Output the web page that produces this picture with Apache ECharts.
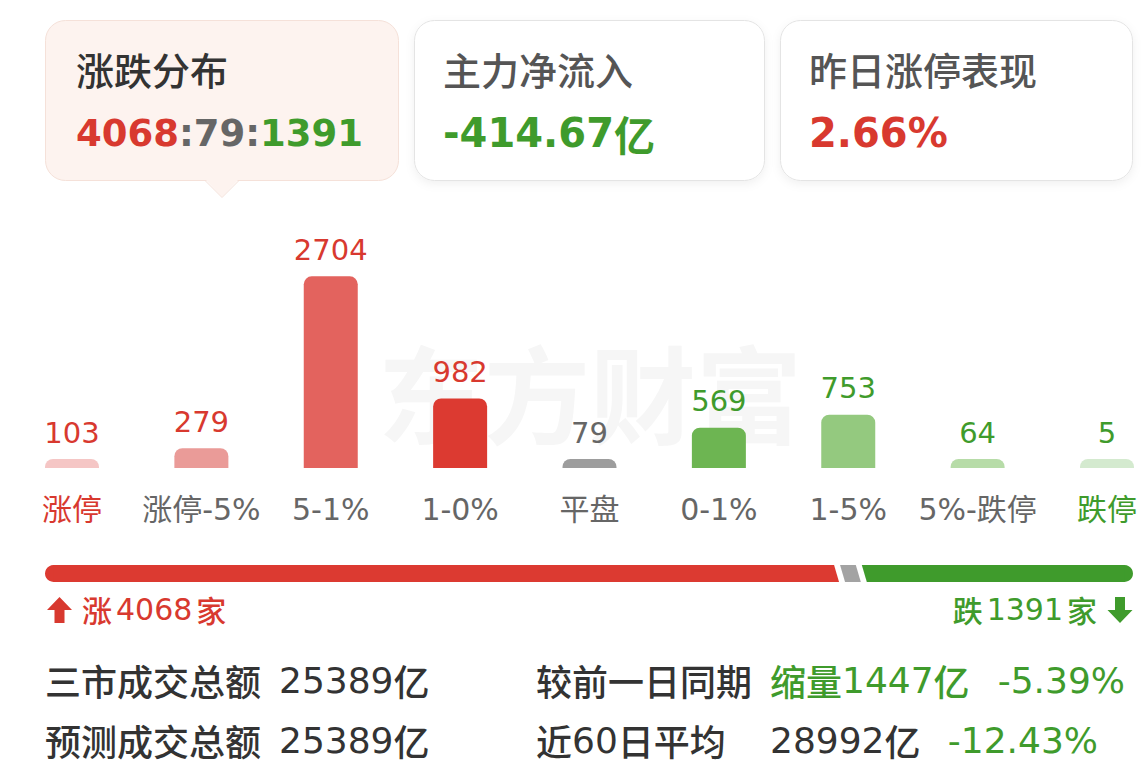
<!DOCTYPE html>
<html><head><meta charset="utf-8">
<script src="https://cdn.jsdelivr.net/npm/echarts@6/dist/echarts.min.js"></script>
<style>html,body{margin:0;padding:0;background:#fff;}#c{width:1147px;height:784px;}</style>
</head><body><div id="c"></div>
<script>
// ---- data ----
const categories = ['涨停', '涨停-5%', '5-1%', '1-0%', '平盘', '0-1%', '1-5%', '5%-跌停', '跌停'];
const counts = [103, 279, 2704, 982, 79, 569, 753, 64, 5];
const breadthCounts = [4068, 79, 1391];          // 涨 : 平 : 跌
const cardTitles = ['涨跌分布', '主力净流入', '昨日涨停表现'];
const netInflow = -414.67;                        // 亿
const limitUpPerf = 2.66;                         // %
const turnoverLabels = ['三市成交总额', '预测成交总额'];
const turnoverValues = [25389, 25389];            // 亿
const compareLabels = ['较前一日同期', '近60日平均'];
const compareValues = [1447, 28992];              // 亿
const comparePct = [-5.39, -12.43];               // %

// ---- styles ----
const RED = '#d8392f', GREEN = '#3f9b2c', GRAY = '#666666', DARK = '#333333';
const barPalette = ['#f5c6c5', '#ea9b98', '#e3635e', '#dc3a31', '#9d9d9d', '#6db552', '#94c97f', '#b7dca8', '#d4eacf'];
const valueColors = [RED, RED, RED, RED, GRAY, GREEN, GREEN, GREEN, GREEN];
const catColors = [RED, GRAY, GRAY, GRAY, GRAY, GRAY, GRAY, GRAY, GREEN];
const breadthPalette = ['#dc3a31', '#a3a3a3', '#3f9b2c'];
const FF = '"DejaVu Sans","Noto Sans CJK SC",sans-serif';
const CJK = '"Noto Sans CJK SC",sans-serif';

// progress-bar segments: very small groups get a minimum visible share
const total = breadthCounts.reduce((a, b) => a + b, 0);
const minShare = total * 0.02;
const bigSum = breadthCounts.filter(v => v >= minShare).reduce((a, b) => a + b, 0);
const smallCount = breadthCounts.filter(v => v < minShare).length;
const shown = breadthCounts.map(v => v < minShare ? minShare : v * (total - smallCount * minShare) / bigSum);
let acc = 0;
const segs = shown.map((v, i) => { const s = [acc, acc + v, i]; acc += v; return s; });

const chart = echarts.init(document.getElementById('c'), null, { renderer: 'svg' });

function txt(x, y, rich, text, align) {
  return { type: 'text', x: x, y: y, style: { text: text, rich: rich, align: align || 'left', verticalAlign: 'middle' } };
}

const graphics = [
  // watermark
  { type: 'text', x: 590, y: 390, z: -10, style: { text: '东方财富', font: 'bold 106px ' + CJK, fill: '#f6f6f6', align: 'center', verticalAlign: 'middle' } },
  // card 1 (active)
  { type: 'rect', shape: { x: 45.5, y: 20.5, width: 353, height: 160, r: 20 }, style: { fill: '#fdf3ef', stroke: '#f5e1d9', lineWidth: 1 } },
  { type: 'polygon', shape: { points: [[205, 179], [222, 197], [239, 179]] }, style: { fill: '#fdf3ef' } },
  { type: 'polyline', shape: { points: [[205, 180.5], [222, 197.5], [239, 180.5]] }, style: { stroke: '#f5e1d9', lineWidth: 1, fill: null } },
  // card 2, 3
  { type: 'rect', shape: { x: 414.5, y: 20.5, width: 350, height: 160, r: 20 }, style: { fill: '#fff', stroke: '#e4e4e4', lineWidth: 1, shadowBlur: 10, shadowColor: 'rgba(0,0,0,0.06)', shadowOffsetY: 3 } },
  { type: 'rect', shape: { x: 780.5, y: 20.5, width: 352, height: 160, r: 20 }, style: { fill: '#fff', stroke: '#e4e4e4', lineWidth: 1, shadowBlur: 10, shadowColor: 'rgba(0,0,0,0.06)', shadowOffsetY: 3 } },
  // card titles
  txt(76, 68, { t: { fontFamily: CJK, fontSize: 38, fontWeight: 500, fill: DARK } }, '{t|' + cardTitles[0] + '}'),
  txt(443, 68, { t: { fontFamily: CJK, fontSize: 38, fontWeight: 500, fill: '#555' } }, '{t|' + cardTitles[1] + '}'),
  txt(809, 68, { t: { fontFamily: CJK, fontSize: 38, fontWeight: 500, fill: '#555' } }, '{t|' + cardTitles[2] + '}'),
  // card values
  txt(76, 133, {
    r: { fontFamily: FF, fontSize: 37, fontWeight: 'bold', fill: RED },
    g: { fontFamily: FF, fontSize: 37, fontWeight: 'bold', fill: GRAY },
    d: { fontFamily: FF, fontSize: 37, fontWeight: 'bold', fill: GREEN }
  }, '{r|' + breadthCounts[0] + '}{g|:' + breadthCounts[1] + ':}{d|' + breadthCounts[2] + '}'),
  txt(443, 133, {
    v: { fontFamily: FF, fontSize: 40, fontWeight: 'bold', fill: GREEN },
    u: { fontFamily: CJK, fontSize: 41, fontWeight: 'bold', fill: GREEN }
  }, '{v|' + netInflow.toFixed(2) + '}{u|亿}'),
  txt(809, 133, { v: { fontFamily: FF, fontSize: 40, fontWeight: 'bold', fill: RED } }, '{v|' + limitUpPerf.toFixed(2) + '%}'),
  // arrows
  { type: 'polygon', shape: { points: [[59.5, 597], [72, 610], [64.5, 610], [64.5, 623], [54.5, 623], [54.5, 610], [47, 610]] }, style: { fill: RED } },
  { type: 'polygon', shape: { points: [[1120, 623], [1132.5, 610], [1125, 610], [1125, 597], [1115, 597], [1115, 610], [1107.5, 610]] }, style: { fill: GREEN } },
  txt(82, 609, { c: { fontFamily: CJK, fontSize: 30, fontWeight: 500, fill: RED, padding: [0, 4, 0, 0] }, n: { fontFamily: FF, fontSize: 30, fill: RED, padding: [0, 4, 0, 0] } },
    '{c|涨}{n|' + breadthCounts[0] + '}{c|家}'),
  txt(1097, 609, { c: { fontFamily: CJK, fontSize: 30, fontWeight: 500, fill: GREEN, padding: [0, 4, 0, 0] }, n: { fontFamily: FF, fontSize: 30, fill: GREEN, padding: [0, 4, 0, 0] }, e: { fontFamily: CJK, fontSize: 30, fontWeight: 500, fill: GREEN } },
    '{c|跌}{n|' + breadthCounts[2] + '}{e|家}', 'right'),
  // bottom rows
  txt(45, 680, { l: { fontFamily: CJK, fontSize: 36, fontWeight: 500, fill: DARK } }, '{l|' + turnoverLabels[0] + '}'),
  txt(45, 740, { l: { fontFamily: CJK, fontSize: 36, fontWeight: 500, fill: DARK } }, '{l|' + turnoverLabels[1] + '}'),
  txt(279, 680, { n: { fontFamily: FF, fontSize: 36, fill: DARK }, u: { fontFamily: CJK, fontSize: 36, fontWeight: 500, fill: DARK } }, '{n|' + turnoverValues[0] + '}{u|亿}'),
  txt(279, 740, { n: { fontFamily: FF, fontSize: 36, fill: DARK }, u: { fontFamily: CJK, fontSize: 36, fontWeight: 500, fill: DARK } }, '{n|' + turnoverValues[1] + '}{u|亿}'),
  txt(536, 680, { l: { fontFamily: CJK, fontSize: 36, fontWeight: 500, fill: DARK } }, '{l|' + compareLabels[0] + '}'),
  txt(536, 740, { l: { fontFamily: CJK, fontSize: 36, fontWeight: 500, fill: DARK }, n: { fontFamily: FF, fontSize: 36, fill: DARK } }, '{l|近}{n|60}{l|日平均}'),
  txt(770, 680, { l: { fontFamily: CJK, fontSize: 36, fontWeight: 500, fill: GREEN }, n: { fontFamily: FF, fontSize: 36, fill: GREEN } }, '{l|缩量}{n|' + compareValues[0] + '}{l|亿}'),
  txt(770, 740, { l: { fontFamily: CJK, fontSize: 36, fontWeight: 500, fill: DARK }, n: { fontFamily: FF, fontSize: 36, fill: DARK } }, '{n|' + compareValues[1] + '}{l|亿}'),
  txt(1125, 680, { n: { fontFamily: FF, fontSize: 36, fill: GREEN } }, '{n|' + comparePct[0].toFixed(2) + '%}', 'right'),
  txt(1098, 740, { n: { fontFamily: FF, fontSize: 36, fill: GREEN } }, '{n|' + comparePct[1].toFixed(2) + '%}', 'right')
];

const option = {
  animation: false,
  backgroundColor: '#ffffff',
  graphic: graphics,
  grid: [
    { left: 72, right: 40, top: 227, height: 241 },
    { left: 45, top: 565, width: 1088, height: 17 }
  ],
  xAxis: [
    {
      type: 'category', gridIndex: 0, data: categories, boundaryGap: false,
      axisLine: { show: false }, axisTick: { show: false }, splitLine: { show: false },
      axisLabel: { margin: 26, fontSize: 30, fontFamily: FF, color: (v, i) => catColors[i], interval: 0 }
    },
    { type: 'value', gridIndex: 1, min: 0, max: total, show: false }
  ],
  yAxis: [
    { type: 'value', gridIndex: 0, min: 0, max: 3400, show: false },
    { type: 'category', gridIndex: 1, data: ['breadth'], show: false }
  ],
  series: [
    {
      type: 'bar', xAxisIndex: 0, yAxisIndex: 0, z: 3,
      barWidth: 54, barMinHeight: 9,
      data: counts.map((v, i) => ({ value: v, itemStyle: { color: barPalette[i] }, label: { color: valueColors[i] } })),
      itemStyle: { borderRadius: [8, 8, 0, 0] },
      label: { show: true, position: 'top', distance: 12, fontSize: 29, fontFamily: FF }
    },
    {
      type: 'custom', xAxisIndex: 1, yAxisIndex: 1, z: 3,
      data: segs,
      renderItem: function (params, api) {
        const i = api.value(2), n = breadthCounts.length;
        const p0 = api.coord([api.value(0), 0]);
        const p1 = api.coord([api.value(1), 0]);
        const h = api.size([0, 1])[1];
        const top = p0[1] - h / 2, bot = p0[1] + h / 2;
        const g = 6, s = 5, color = breadthPalette[i];
        const children = [];
        let lt, lb, rt, rb;
        if (i === 0) { lt = lb = p0[0] + h / 2; children.push({ type: 'circle', shape: { cx: p0[0] + h / 2, cy: p0[1], r: h / 2 }, style: { fill: color } }); }
        else { lt = p0[0] + g / 2 - s / 2; lb = p0[0] + g / 2 + s / 2; }
        if (i === n - 1) { rt = rb = p1[0] - h / 2; children.push({ type: 'circle', shape: { cx: p1[0] - h / 2, cy: p1[1], r: h / 2 }, style: { fill: color } }); }
        else { rt = p1[0] - g / 2 - s / 2; rb = p1[0] - g / 2 + s / 2; }
        children.push({ type: 'polygon', shape: { points: [[lt, top], [rt, top], [rb, bot], [lb, bot]] }, style: { fill: color } });
        return { type: 'group', children: children };
      }
    }
  ]
};
chart.setOption(option);
</script>
</body></html>
